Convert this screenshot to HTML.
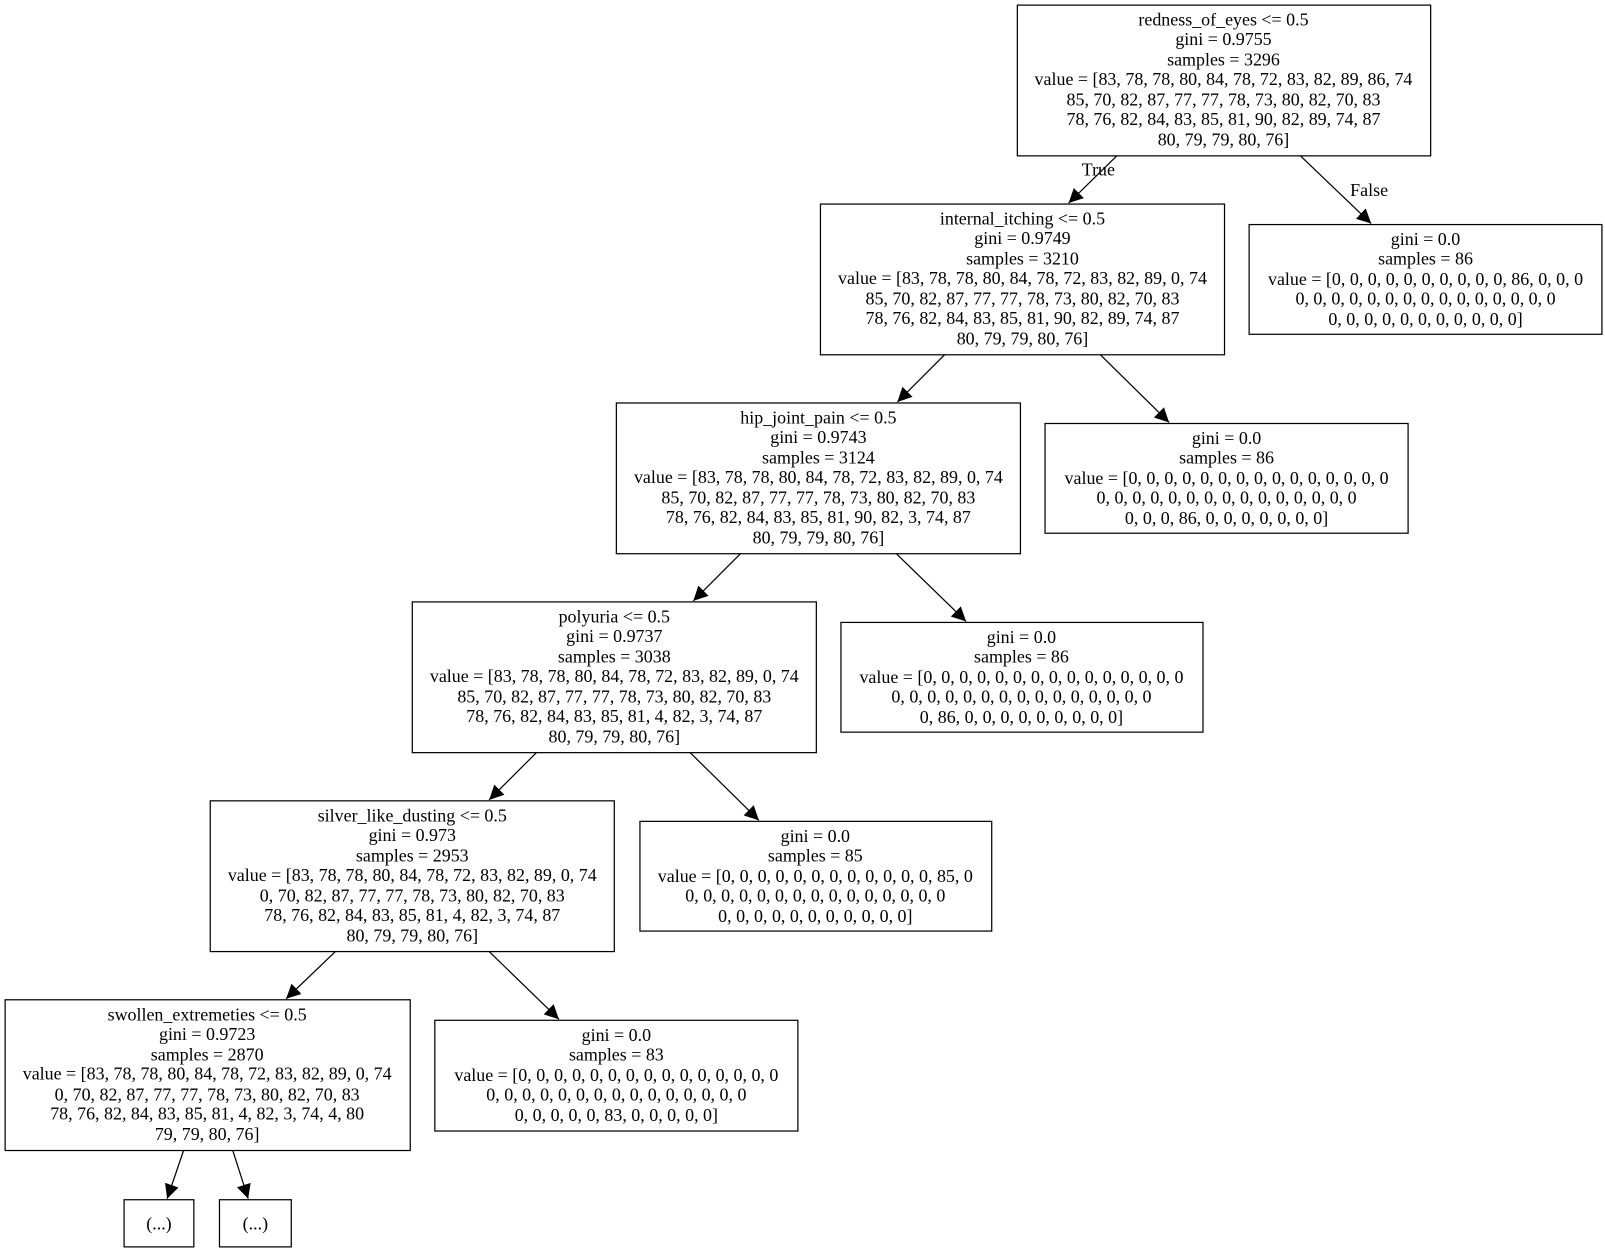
<!DOCTYPE html>
<html><head><meta charset="utf-8"><style>
html,body{margin:0;padding:0;background:#fff;}
svg{display:block;}
text{font-family:"Liberation Serif",serif;font-size:17.5px;fill:#000;text-anchor:middle;}
rect{fill:#fff;stroke:#000;stroke-width:1.2;}
line{stroke:#000;stroke-width:1.2;}
</style></head><body>
<svg width="1605" height="1251" viewBox="0 0 1565 1220" preserveAspectRatio="none">
<defs><marker id="a" viewBox="0 0 10 10" refX="10" refY="5" markerWidth="14" markerHeight="14" markerUnits="userSpaceOnUse" orient="auto"><path d="M0,0 L10,5 L0,10 z" fill="#000"/></marker></defs>

<rect x="992" y="5" width="403" height="147"/>
<text x="1193" y="25">redness_of_eyes &lt;= 0.5</text>
<text x="1193" y="44">gini = 0.9755</text>
<text x="1193" y="64">samples = 3296</text>
<text x="1193" y="83">value = [83, 78, 78, 80, 84, 78, 72, 83, 82, 89, 86, 74</text>
<text x="1193" y="103">85, 70, 82, 87, 77, 77, 78, 73, 80, 82, 70, 83</text>
<text x="1193" y="122">78, 76, 82, 84, 83, 85, 81, 90, 82, 89, 74, 87</text>
<text x="1193" y="142">80, 79, 79, 80, 76]</text>

<rect x="800" y="199" width="394" height="147"/>
<text x="997" y="219">internal_itching &lt;= 0.5</text>
<text x="997" y="238">gini = 0.9749</text>
<text x="997" y="258">samples = 3210</text>
<text x="997" y="277">value = [83, 78, 78, 80, 84, 78, 72, 83, 82, 89, 0, 74</text>
<text x="997" y="297">85, 70, 82, 87, 77, 77, 78, 73, 80, 82, 70, 83</text>
<text x="997" y="316">78, 76, 82, 84, 83, 85, 81, 90, 82, 89, 74, 87</text>
<text x="997" y="336">80, 79, 79, 80, 76]</text>

<rect x="1218" y="219" width="344" height="107"/>
<text x="1390" y="239">gini = 0.0</text>
<text x="1390" y="258">samples = 86</text>
<text x="1390" y="278">value = [0, 0, 0, 0, 0, 0, 0, 0, 0, 0, 86, 0, 0, 0</text>
<text x="1390" y="297">0, 0, 0, 0, 0, 0, 0, 0, 0, 0, 0, 0, 0, 0, 0</text>
<text x="1390" y="317">0, 0, 0, 0, 0, 0, 0, 0, 0, 0, 0]</text>

<rect x="601" y="393" width="394" height="147"/>
<text x="798" y="413">hip_joint_pain &lt;= 0.5</text>
<text x="798" y="432">gini = 0.9743</text>
<text x="798" y="452">samples = 3124</text>
<text x="798" y="471">value = [83, 78, 78, 80, 84, 78, 72, 83, 82, 89, 0, 74</text>
<text x="798" y="491">85, 70, 82, 87, 77, 77, 78, 73, 80, 82, 70, 83</text>
<text x="798" y="510">78, 76, 82, 84, 83, 85, 81, 90, 82, 3, 74, 87</text>
<text x="798" y="530">80, 79, 79, 80, 76]</text>

<rect x="1019" y="413" width="354" height="107"/>
<text x="1196" y="433">gini = 0.0</text>
<text x="1196" y="452">samples = 86</text>
<text x="1196" y="472">value = [0, 0, 0, 0, 0, 0, 0, 0, 0, 0, 0, 0, 0, 0, 0</text>
<text x="1196" y="491">0, 0, 0, 0, 0, 0, 0, 0, 0, 0, 0, 0, 0, 0, 0</text>
<text x="1196" y="511">0, 0, 0, 86, 0, 0, 0, 0, 0, 0, 0]</text>

<rect x="402" y="587" width="394" height="147"/>
<text x="599" y="607">polyuria &lt;= 0.5</text>
<text x="599" y="626">gini = 0.9737</text>
<text x="599" y="646">samples = 3038</text>
<text x="599" y="665">value = [83, 78, 78, 80, 84, 78, 72, 83, 82, 89, 0, 74</text>
<text x="599" y="685">85, 70, 82, 87, 77, 77, 78, 73, 80, 82, 70, 83</text>
<text x="599" y="704">78, 76, 82, 84, 83, 85, 81, 4, 82, 3, 74, 87</text>
<text x="599" y="724">80, 79, 79, 80, 76]</text>

<rect x="820" y="607" width="353" height="107"/>
<text x="996" y="627">gini = 0.0</text>
<text x="996" y="646">samples = 86</text>
<text x="996" y="666">value = [0, 0, 0, 0, 0, 0, 0, 0, 0, 0, 0, 0, 0, 0, 0</text>
<text x="996" y="685">0, 0, 0, 0, 0, 0, 0, 0, 0, 0, 0, 0, 0, 0, 0</text>
<text x="996" y="705">0, 86, 0, 0, 0, 0, 0, 0, 0, 0, 0]</text>

<rect x="205" y="781" width="394" height="147"/>
<text x="402" y="801">silver_like_dusting &lt;= 0.5</text>
<text x="402" y="820">gini = 0.973</text>
<text x="402" y="840">samples = 2953</text>
<text x="402" y="859">value = [83, 78, 78, 80, 84, 78, 72, 83, 82, 89, 0, 74</text>
<text x="402" y="879">0, 70, 82, 87, 77, 77, 78, 73, 80, 82, 70, 83</text>
<text x="402" y="898">78, 76, 82, 84, 83, 85, 81, 4, 82, 3, 74, 87</text>
<text x="402" y="918">80, 79, 79, 80, 76]</text>

<rect x="624" y="801" width="343" height="107"/>
<text x="795" y="821">gini = 0.0</text>
<text x="795" y="840">samples = 85</text>
<text x="795" y="860">value = [0, 0, 0, 0, 0, 0, 0, 0, 0, 0, 0, 0, 85, 0</text>
<text x="795" y="879">0, 0, 0, 0, 0, 0, 0, 0, 0, 0, 0, 0, 0, 0, 0</text>
<text x="795" y="899">0, 0, 0, 0, 0, 0, 0, 0, 0, 0, 0]</text>

<rect x="5" y="975" width="395" height="147"/>
<text x="202" y="995">swollen_extremeties &lt;= 0.5</text>
<text x="202" y="1014">gini = 0.9723</text>
<text x="202" y="1034">samples = 2870</text>
<text x="202" y="1053">value = [83, 78, 78, 80, 84, 78, 72, 83, 82, 89, 0, 74</text>
<text x="202" y="1073">0, 70, 82, 87, 77, 77, 78, 73, 80, 82, 70, 83</text>
<text x="202" y="1092">78, 76, 82, 84, 83, 85, 81, 4, 82, 3, 74, 4, 80</text>
<text x="202" y="1112">79, 79, 80, 76]</text>

<rect x="424" y="995" width="354" height="108"/>
<text x="601" y="1015">gini = 0.0</text>
<text x="601" y="1034">samples = 83</text>
<text x="601" y="1054">value = [0, 0, 0, 0, 0, 0, 0, 0, 0, 0, 0, 0, 0, 0, 0</text>
<text x="601" y="1073">0, 0, 0, 0, 0, 0, 0, 0, 0, 0, 0, 0, 0, 0, 0</text>
<text x="601" y="1093">0, 0, 0, 0, 0, 83, 0, 0, 0, 0, 0]</text>

<rect x="121" y="1170" width="68" height="46"/>
<text x="155" y="1199">(...)</text>
<rect x="214" y="1170" width="70" height="46"/>
<text x="249" y="1199">(...)</text>

<line x1="1090" y1="152" x2="1082" y2="198" style="display:none"/>
<line x1="1090" y1="152" x2="1081" y2="198" style="display:none"/>
<line x1="1090" y1="152" x2="1083" y2="198" style="display:none"/>
<line x1="1089" y1="152" x2="1080" y2="199" marker-end="url(#a)" style="display:none"/>
<line x1="1089" y1="152" x2="1042" y2="198" marker-end="url(#a)"/>
<text x="1071" y="171">True</text>
<line x1="1268" y1="152" x2="1337" y2="218" marker-end="url(#a)"/>
<text x="1335" y="191">False</text>
<line x1="921" y1="346" x2="875" y2="392" marker-end="url(#a)"/>
<line x1="1073" y1="346" x2="1140" y2="412" marker-end="url(#a)"/>
<line x1="722" y1="540" x2="676" y2="586" marker-end="url(#a)"/>
<line x1="874" y1="540" x2="942" y2="606" marker-end="url(#a)"/>
<line x1="523" y1="734" x2="477" y2="780" marker-end="url(#a)"/>
<line x1="673" y1="734" x2="740" y2="800" marker-end="url(#a)"/>
<line x1="327" y1="928" x2="279" y2="974" marker-end="url(#a)"/>
<line x1="477" y1="928" x2="545" y2="994" marker-end="url(#a)"/>
<line x1="179" y1="1122" x2="163" y2="1169" marker-end="url(#a)"/>
<line x1="227" y1="1122" x2="242" y2="1169" marker-end="url(#a)"/>
</svg>
</body></html>
